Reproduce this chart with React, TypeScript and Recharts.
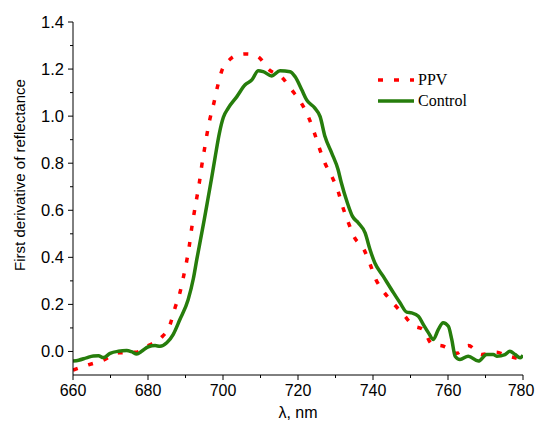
import React from 'react';
import { LineChart, Line, XAxis, YAxis } from 'recharts';

const ppvWavelength = [660.0, 662.0, 664.5, 668.1, 672.1, 677.0, 680.1, 683.2, 685.9, 687.2, 688.5, 689.4, 690.3, 691.0, 691.6, 692.3, 693.0, 693.7, 694.3, 695.0, 695.7, 696.5, 697.6, 698.5, 699.6, 701.7, 703.5, 705.9, 708.0, 709.6, 712.1, 715.7, 718.3, 720.8, 722.8, 724.3, 725.7, 727.2, 729.0, 730.7, 731.9, 733.4, 734.9, 737.6, 739.2, 740.8, 742.7, 745.3, 748.1, 750.8, 753.4, 755.6, 759.2, 762.3, 765.4, 769.0, 772.8, 775.6, 779.0, 780.0];
const ppvValues = [-0.079, -0.068, -0.055, -0.037, -0.006, -0.003, 0.025, 0.054, 0.115, 0.185, 0.249, 0.313, 0.383, 0.447, 0.518, 0.588, 0.652, 0.718, 0.786, 0.854, 0.921, 0.987, 1.058, 1.123, 1.189, 1.239, 1.258, 1.264, 1.262, 1.25, 1.2, 1.165, 1.112, 1.058, 0.996, 0.932, 0.864, 0.8, 0.744, 0.68, 0.616, 0.549, 0.489, 0.433, 0.372, 0.305, 0.257, 0.207, 0.157, 0.11, 0.093, 0.033, 0.02, -0.008, 0.025, -0.013, -0.003, -0.017, -0.031, -0.035];

const controlWavelength = [660.0, 661.5, 663.6, 665.4, 666.8, 668.1, 669.9, 672.1, 674.3, 675.6, 677.0, 678.3, 680.1, 681.9, 683.2, 685.0, 686.7, 688.5, 690.7, 692.1, 693.0, 694.0, 695.0, 696.0, 697.0, 698.0, 699.0, 700.1, 701.4, 703.7, 705.9, 707.7, 709.4, 710.7, 713.0, 715.2, 717.9, 719.2, 721.0, 722.3, 724.5, 725.9, 727.2, 729.0, 730.7, 731.5, 733.2, 734.5, 736.1, 737.9, 739.2, 740.5, 742.7, 745.2, 747.2, 749.0, 750.3, 752.1, 753.4, 754.8, 756.1, 757.4, 758.7, 760.1, 761.0, 761.9, 763.2, 765.4, 768.1, 770.3, 772.1, 773.0, 775.2, 776.5, 777.9, 779.2, 780.0];
const controlValues = [-0.041, -0.037, -0.027, -0.019, -0.018, -0.026, -0.008, 0.001, 0.004, -0.001, -0.011, 0.001, 0.02, 0.025, 0.022, 0.037, 0.072, 0.136, 0.22, 0.31, 0.39, 0.475, 0.56, 0.65, 0.74, 0.835, 0.925, 0.995, 1.034, 1.083, 1.133, 1.154, 1.193, 1.189, 1.171, 1.193, 1.189, 1.168, 1.112, 1.069, 1.034, 0.998, 0.913, 0.843, 0.772, 0.72, 0.63, 0.575, 0.546, 0.504, 0.433, 0.376, 0.32, 0.256, 0.207, 0.167, 0.164, 0.15, 0.115, 0.079, 0.051, 0.093, 0.122, 0.107, 0.051, -0.02, -0.034, -0.02, -0.041, -0.013, -0.013, -0.02, -0.013, 0.001, -0.013, -0.027, -0.016];

const xTicks = [660, 670, 680, 690, 700, 710, 720, 730, 740, 750, 760, 770, 780];
const xLabelTicks = [660, 680, 700, 720, 740, 760, 780];
const yTicks = [-0.1, 0.0, 0.1, 0.2, 0.3, 0.4, 0.5, 0.6, 0.7, 0.8, 0.9, 1.0, 1.1, 1.2, 1.3, 1.4];
const yLabelTicks = ['0.0', '0.2', '0.4', '0.6', '0.8', '1.0', '1.2', '1.4'];
const seriesNames = ['PPV', 'Control'];

const ppvData = ppvWavelength.map((x, i) => ({ x, y: ppvValues[i] }));
const controlData = controlWavelength.map((x, i) => ({ x, y: controlValues[i] }));

const RED = '#ff0000';
const GREEN = '#267d0c';
const AXIS_FONT = "'Liberation Sans', Arial, sans-serif";
const SERIF = "'Liberation Serif', 'Times New Roman', serif";
const CHART_W = 535;

const XTick = (props: any) => {
  const { x, y, payload } = props;
  const v = payload.value;
  const major = xLabelTicks.includes(v);
  const labelX = Math.min(x, CHART_W - 1 - 13);
  return (
    <g>
      <line x1={x} x2={x} y1={y} y2={y + (major ? 5 : 3)} stroke="#000" strokeWidth={1} />
      {major && (
        <text x={labelX} y={y + 21} textAnchor="middle" fontFamily={AXIS_FONT} fontSize={16} fill="#000">
          {v}
        </text>
      )}
    </g>
  );
};

const YTick = (props: any) => {
  const { x, y, payload } = props;
  const v = Number(payload.value);
  const label = v.toFixed(1);
  const major = yLabelTicks.includes(label);
  if (v < -0.05) return <g />;
  return (
    <g>
      <line x1={x - (major ? 5 : 3)} x2={x} y1={y} y2={y} stroke="#000" strokeWidth={1} />
      {major && (
        <text x={x - 9} y={y + 6} textAnchor="end" fontFamily={AXIS_FONT} fontSize={16.5} fill="#000">
          {label}
        </text>
      )}
    </g>
  );
};

export default function App() {
  return (
    <div style={{ position: 'absolute', left: 0, top: 0, width: 535, height: 429, background: '#fff' }}>
      <LineChart width={CHART_W} height={429} margin={{ top: 22, right: 12, bottom: 0, left: 0 }}>
        <XAxis
          dataKey="x"
          type="number"
          domain={[660, 780]}
          ticks={xTicks}
          interval={0}
          tickSize={0}
          tickMargin={0}
          tickLine={false}
          tick={<XTick />}
          height={54}
          stroke="#000"
          allowDataOverflow
          label={() => (
            <text x={298} y={418} textAnchor="middle" fontFamily={AXIS_FONT} fontSize={16} fill="#000">
              λ, nm
            </text>
          )}
        />
        <YAxis
          type="number"
          domain={[-0.1, 1.4]}
          ticks={yTicks}
          interval={0}
          tickSize={0}
          tickMargin={0}
          tickLine={false}
          tick={<YTick />}
          width={73}
          stroke="#000"
          allowDataOverflow
          label={() => (
            <text
              x={25}
              y={175}
              transform="rotate(-90 25 175)"
              textAnchor="middle"
              fontFamily={AXIS_FONT}
              fontSize={15}
              fill="#000"
            >
              First derivative of reflectance
            </text>
          )}
        />
        <Line
          data={ppvData}
          dataKey="y"
          type="monotone"
          stroke={RED}
          strokeWidth={3.5}
          strokeDasharray="5 11"
          dot={false}
          isAnimationActive={false}
          name={seriesNames[0]}
        />
        <Line
          data={controlData}
          dataKey="y"
          type="monotone"
          stroke={GREEN}
          strokeWidth={3.5}
          dot={false}
          isAnimationActive={false}
          name={seriesNames[1]}
        />
      </LineChart>
      <svg width={120} height={44} style={{ position: 'absolute', left: 376, top: 69 }}>
        <line x1={2} x2={38} y1={11} y2={11} stroke={RED} strokeWidth={3.5} strokeDasharray="5 11" />
        <text x={42} y={16} fontFamily={SERIF} fontSize={16} fill="#000">{seriesNames[0]}</text>
        <line x1={2} x2={38} y1={32} y2={32} stroke={GREEN} strokeWidth={3.5} />
        <text x={42} y={37} fontFamily={SERIF} fontSize={16} fill="#000">{seriesNames[1]}</text>
      </svg>
    </div>
  );
}
